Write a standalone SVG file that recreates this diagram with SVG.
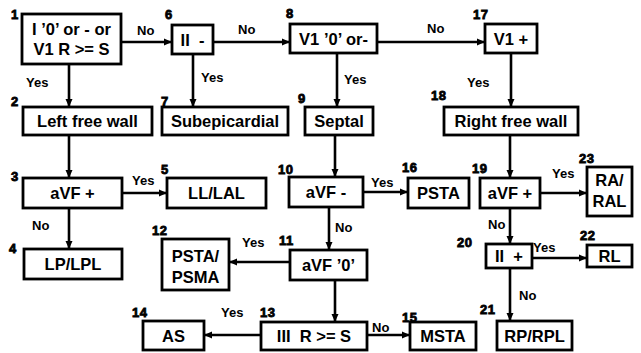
<svg xmlns="http://www.w3.org/2000/svg" width="641" height="353" viewBox="0 0 641 353">
<defs>
<marker id="ah" markerUnits="userSpaceOnUse" markerWidth="10" markerHeight="10" refX="9" refY="5" orient="auto">
<path d="M1,1.5 L9,5 L1,8.5 Z" fill="#000"/>
</marker>
<style>
.b{fill:#fff;stroke:#000;stroke-width:2.8}
.t{font-family:"Liberation Sans",Arial,sans-serif;font-weight:bold;font-size:16.5px;text-anchor:middle;fill:#000;white-space:pre}
.l{font-family:"Liberation Sans",Arial,sans-serif;font-weight:bold;font-size:13px;fill:#000}
.n{font-family:"Liberation Sans",Arial,sans-serif;font-weight:900;font-size:13px;fill:#000;stroke:#000;stroke-width:0.8;letter-spacing:0.5px}
.c{fill:none;stroke:#000;stroke-width:2.6;marker-end:url(#ah)}
</style>
</defs>
<rect width="641" height="353" fill="#fff"/>
<g id="connectors">
<line class="c" x1="121" y1="42" x2="172" y2="42"/>
<line class="c" x1="213" y1="42" x2="290" y2="42"/>
<line class="c" x1="377" y1="42" x2="485" y2="42"/>
<line class="c" x1="69" y1="64" x2="69" y2="107"/>
<line class="c" x1="193" y1="54" x2="193" y2="107"/>
<line class="c" x1="337" y1="53" x2="337" y2="107"/>
<line class="c" x1="511" y1="53" x2="511" y2="107"/>
<line class="c" x1="69" y1="135" x2="69" y2="178"/>
<line class="c" x1="335" y1="135" x2="335" y2="177"/>
<line class="c" x1="510" y1="135" x2="510" y2="178"/>
<line class="c" x1="122" y1="193" x2="167" y2="193"/>
<line class="c" x1="363" y1="192" x2="408" y2="192"/>
<line class="c" x1="540" y1="193" x2="587" y2="193"/>
<line class="c" x1="69" y1="208" x2="69" y2="249"/>
<line class="c" x1="329" y1="207" x2="329" y2="250"/>
<line class="c" x1="510" y1="208" x2="510" y2="244"/>
<line class="c" x1="290" y1="262" x2="229" y2="262"/>
<line class="c" x1="532" y1="258" x2="587" y2="258"/>
<line class="c" x1="335" y1="280" x2="335" y2="322"/>
<line class="c" x1="510" y1="268" x2="510" y2="321"/>
<line class="c" x1="261" y1="335" x2="204" y2="335"/>
<line class="c" x1="367" y1="335" x2="410" y2="335"/>
<text class="l" x="137" y="35">No</text>
<text class="l" x="238" y="34">No</text>
<text class="l" x="427" y="33">No</text>
<text class="l" x="26" y="87">Yes</text>
<text class="l" x="201" y="82">Yes</text>
<text class="l" x="344" y="84">Yes</text>
<text class="l" x="467" y="87">Yes</text>
<text class="l" x="132" y="185">Yes</text>
<text class="l" x="371" y="187">Yes</text>
<text class="l" x="552" y="178">Yes</text>
<text class="l" x="32" y="230">No</text>
<text class="l" x="335" y="232">No</text>
<text class="l" x="488" y="229">No</text>
<text class="l" x="242" y="247">Yes</text>
<text class="l" x="533" y="252">Yes</text>
<text class="l" x="519" y="300">No</text>
<text class="l" x="221" y="317">Yes</text>
<text class="l" x="372" y="332">No</text>
</g>
<g id="n1"><rect class="b" x="22" y="14" width="99" height="50"/><text class="t" x="71.5" y="35">I ’0’ or - or</text><text class="t" x="71.5" y="55">V1 R &gt;= S</text><text class="n" x="11" y="19">1</text></g>
<g id="n6"><rect class="b" x="172" y="25" width="41" height="29"/><text class="t" x="192.5" y="46">II  -</text><text class="n" x="165" y="19">6</text></g>
<g id="n8"><rect class="b" x="290" y="24" width="87" height="29"/><text class="t" x="333.5" y="45">V1 ’0’ or-</text><text class="n" x="286" y="18">8</text></g>
<g id="n17"><rect class="b" x="485" y="24" width="52" height="29"/><text class="t" x="511" y="45">V1 +</text><text class="n" x="473" y="19">17</text></g>
<g id="n2"><rect class="b" x="23" y="107" width="129" height="28"/><text class="t" x="87.5" y="127">Left free wall</text><text class="n" x="11" y="106">2</text></g>
<g id="n7"><rect class="b" x="162" y="107" width="126" height="28"/><text class="t" x="225" y="127">Subepicardial</text><text class="n" x="161" y="106">7</text></g>
<g id="n9"><rect class="b" x="305" y="107" width="68" height="28"/><text class="t" x="339" y="127">Septal</text><text class="n" x="298" y="103">9</text></g>
<g id="n18"><rect class="b" x="444" y="107" width="134" height="28"/><text class="t" x="511" y="127">Right free wall</text><text class="n" x="431" y="100">18</text></g>
<g id="n3"><rect class="b" x="23" y="178" width="99" height="30"/><text class="t" x="72.5" y="199">aVF +</text><text class="n" x="11" y="181">3</text></g>
<g id="n5"><rect class="b" x="167" y="178" width="99" height="30"/><text class="t" x="216.5" y="199">LL/LAL</text><text class="n" x="161" y="174">5</text></g>
<g id="n10"><rect class="b" x="289" y="177" width="74" height="30"/><text class="t" x="326" y="198">aVF -</text><text class="n" x="278" y="174">10</text></g>
<g id="n16"><rect class="b" x="408" y="178" width="61" height="30"/><text class="t" x="438.5" y="199">PSTA</text><text class="n" x="402" y="172">16</text></g>
<g id="n19"><rect class="b" x="480" y="178" width="60" height="30"/><text class="t" x="510" y="199">aVF +</text><text class="n" x="472" y="173">19</text></g>
<g id="n23"><rect class="b" x="587" y="167" width="45" height="49"/><text class="t" x="609.5" y="186">RA/</text><text class="t" x="609.5" y="207">RAL</text><text class="n" x="579" y="163">23</text></g>
<g id="n4"><rect class="b" x="24" y="249" width="98" height="30"/><text class="t" x="73" y="270">LP/LPL</text><text class="n" x="9" y="253">4</text></g>
<g id="n12"><rect class="b" x="162" y="239" width="67" height="51"/><text class="t" x="195.5" y="262">PSTA/</text><text class="t" x="195.5" y="283">PSMA</text><text class="n" x="152" y="235">12</text></g>
<g id="n11"><rect class="b" x="290" y="250" width="77" height="30"/><text class="t" x="328.5" y="271">aVF ’0’</text><text class="n" x="279" y="245">11</text></g>
<g id="n13"><rect class="b" x="261" y="322" width="106" height="28"/><text class="t" x="314" y="342">III  R &gt;= S</text><text class="n" x="260" y="317">13</text></g>
<g id="n14"><rect class="b" x="143" y="321" width="61" height="29"/><text class="t" x="173.5" y="342">AS</text><text class="n" x="132" y="317">14</text></g>
<g id="n15"><rect class="b" x="410" y="322" width="66" height="28"/><text class="t" x="443" y="342">MSTA</text><text class="n" x="402" y="322">15</text></g>
<g id="n20"><rect class="b" x="486" y="244" width="46" height="24"/><text class="t" x="509" y="262">II  +</text><text class="n" x="457" y="247">20</text></g>
<g id="n22"><rect class="b" x="587" y="245" width="45" height="22"/><text class="t" x="609.5" y="262">RL</text><text class="n" x="580" y="240">22</text></g>
<g id="n21"><rect class="b" x="497" y="321" width="75" height="29"/><text class="t" x="534.5" y="342">RP/RPL</text><text class="n" x="480" y="314">21</text></g>
</svg>
